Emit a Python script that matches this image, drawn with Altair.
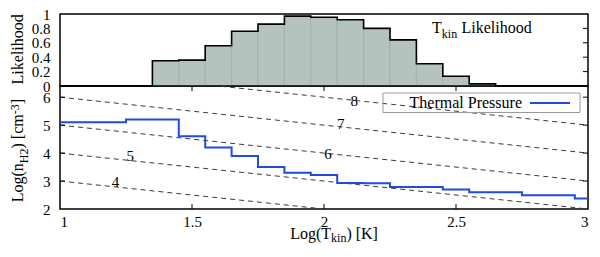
import altair as alt
import pandas as pd

FONT = "Liberation Serif, DejaVu Serif, Noto Serif, serif"

# ---------------- data ----------------
# Top panel: T_kin likelihood histogram (bins of width 0.1 in Log T_kin)
bin_left = [1.35, 1.45, 1.55, 1.65, 1.75, 1.85, 1.95, 2.05, 2.15, 2.25, 2.35, 2.45, 2.55]
likelihood = [0.35, 0.36, 0.56, 0.76, 0.86, 0.97, 0.955, 0.92, 0.80, 0.64, 0.31, 0.135, 0.03]
bin_width = 0.1

# Bottom panel: thermal pressure step curve (edges in Log T_kin, values Log n_H2)
tp_edges = [1.0, 1.25, 1.45, 1.55, 1.65, 1.75, 1.85, 1.95, 2.05, 2.15, 2.25, 2.45, 2.55, 2.75, 2.95, 3.0]
tp_values = [5.1, 5.2, 4.6, 4.2, 3.9, 3.5, 3.3, 3.22, 2.93, 2.92, 2.79, 2.7, 2.6, 2.49, 2.38, 2.38]

# Isobars Log(n T) = level : endpoints at Log T = 1 and Log T = 3
isobar_levels = [4, 5, 6, 7, 8]
isobar_y_at_1 = [3, 4, 5, 6, 7]
isobar_y_at_3 = [1, 2, 3, 4, 5]
isobar_label_x = [1.21, 1.266, 2.015, 2.063, 2.115]
isobar_label_y = [2.96, 3.91, 3.97, 5.03, 5.88]

x_ticks = [1, 1.5, 2, 2.5, 3]
y_ticks_top = [0, 0.2, 0.4, 0.6, 0.8, 1]
y_ticks_bottom = [2, 3, 4, 5, 6]

# ---------------- layout constants ----------------
W = 528
H_TOP = 72
H_BOT = 123
TICK = 5
BLUE = "#1f4be0"
TS = 16   # title font size
LS = 15   # tick label font size

xscale = alt.Scale(domain=[1, 3], nice=False, zero=False)
ytop = alt.Scale(domain=[0, 1], nice=False, zero=False)
ybot = alt.Scale(domain=[2, 6.4], nice=False, zero=False)

common_axis = dict(format="~g", title=None, ticks=False, domain=False, grid=False,
                   labelOverlap=False, labelFontSize=LS, labelFont=FONT, labelColor="black")
top_y_axis = alt.Axis(values=y_ticks_top, labelPadding=10, **common_axis)
bot_y_axis = alt.Axis(values=y_ticks_bottom, labelPadding=10, **common_axis)
bot_x_axis = alt.Axis(values=x_ticks, labelPadding=5, **common_axis)


def piece(text, x, y, size=TS, angle=0, align="left", baseline="alphabetic"):
    return alt.Chart(pd.DataFrame({"t": [text]})).mark_text(
        font=FONT, fontSize=size, angle=angle, align=align, baseline=baseline, color="black"
    ).encode(text="t:N", x=alt.value(x), y=alt.value(y))


# ---------------- top panel ----------------
hist_df = pd.DataFrame({
    "left": bin_left,
    "right": [b + bin_width for b in bin_left],
    "p": likelihood,
})
outline_df = pd.DataFrame({
    "x": [1.0] + bin_left + [bin_left[-1] + bin_width, 3.0],
    "p": [0.0] + likelihood + [0.0, 0.0],
})
top_ticks_df = pd.DataFrame({"v": y_ticks_top[1:-1]})

bars = alt.Chart(hist_df).mark_rect(fill="#b4c3be", stroke="#97a6a1", strokeWidth=0.6).encode(
    x=alt.X("left:Q", scale=xscale, axis=None),
    x2="right:Q",
    y=alt.Y("p:Q", scale=ytop, axis=top_y_axis),
    y2=alt.datum(0),
)
outline = alt.Chart(outline_df).mark_line(interpolate="step-after", color="black", strokeWidth=1.6).encode(
    x=alt.X("x:Q", scale=xscale, axis=None),
    y=alt.Y("p:Q", scale=ytop, axis=top_y_axis),
)
top_right_ticks = alt.Chart(top_ticks_df).mark_rule(color="black", strokeWidth=1).encode(
    y=alt.Y("v:Q", scale=ytop, axis=top_y_axis),
    x=alt.value(W - TICK), x2=alt.value(W),
)

top = alt.layer(
    bars, outline, top_right_ticks,
    piece("T", 372, 19),
    piece("kin", 381.8, 24, size=12),
    piece("Likelihood", 401.5, 19),
    piece("Likelihood", -37.5, 35.3, angle=270, align="center"),
).properties(width=W, height=H_TOP)

# ---------------- bottom panel ----------------
iso_df = pd.DataFrame({
    "level": isobar_levels * 2,
    "x": [1.0] * len(isobar_levels) + [3.0] * len(isobar_levels),
    "y": isobar_y_at_1 + isobar_y_at_3,
})
iso_lab_df = pd.DataFrame({
    "lab": [str(v) for v in isobar_levels],
    "x": isobar_label_x,
    "y": isobar_label_y,
})
tp_df = pd.DataFrame({"x": tp_edges, "y": tp_values})
bot_y_ticks_df = pd.DataFrame({"v": y_ticks_bottom[1:]})
bot_x_ticks_df = pd.DataFrame({"v": x_ticks[1:-1]})

isobars = alt.Chart(iso_df).mark_line(clip=True, strokeDash=[5, 4], color="#3a3a3a", strokeWidth=1).encode(
    x=alt.X("x:Q", scale=xscale, axis=bot_x_axis),
    y=alt.Y("y:Q", scale=ybot, axis=bot_y_axis),
    detail="level:N",
)
iso_labels = alt.Chart(iso_lab_df).mark_text(font=FONT, fontSize=15, color="black").encode(
    x=alt.X("x:Q", scale=xscale, axis=bot_x_axis),
    y=alt.Y("y:Q", scale=ybot, axis=bot_y_axis),
    text="lab:N",
)
tp_line = alt.Chart(tp_df).mark_line(interpolate="step-after", color=BLUE, strokeWidth=2).encode(
    x=alt.X("x:Q", scale=xscale, axis=bot_x_axis),
    y=alt.Y("y:Q", scale=ybot, axis=bot_y_axis),
)
left_ticks = alt.Chart(bot_y_ticks_df).mark_rule(color="black", strokeWidth=1).encode(
    y=alt.Y("v:Q", scale=ybot, axis=bot_y_axis), x=alt.value(0), x2=alt.value(TICK))
right_ticks = alt.Chart(bot_y_ticks_df).mark_rule(color="black", strokeWidth=1).encode(
    y=alt.Y("v:Q", scale=ybot, axis=bot_y_axis), x=alt.value(W - TICK), x2=alt.value(W))
top_xticks = alt.Chart(bot_x_ticks_df).mark_rule(color="black", strokeWidth=1).encode(
    x=alt.X("v:Q", scale=xscale, axis=bot_x_axis), y=alt.value(0), y2=alt.value(TICK))
bot_xticks = alt.Chart(bot_x_ticks_df).mark_rule(color="black", strokeWidth=1).encode(
    x=alt.X("v:Q", scale=xscale, axis=bot_x_axis), y=alt.value(H_BOT - TICK), y2=alt.value(H_BOT))

one = pd.DataFrame({"a": [0]})
legend_box = alt.Chart(one).mark_rect(fill="white", fillOpacity=0, stroke="#9a9a9a", strokeWidth=1).encode(
    x=alt.value(W - 205), x2=alt.value(W - 8), y=alt.value(7), y2=alt.value(26.5))
legend_line = alt.Chart(one).mark_rule(color=BLUE, strokeWidth=2).encode(
    x=alt.value(W - 58), x2=alt.value(W - 18), y=alt.value(17))

bottom = alt.layer(
    isobars, iso_labels, tp_line, left_ticks, right_ticks, top_xticks, bot_xticks,
    legend_box, legend_line,
    piece("Thermal Pressure", W - 66, 17, align="right", baseline="middle"),
    # y title: Log(n_H2) [cm^-3]
    piece("Log(n", -37.5, 116.3, angle=270),
    piece("H2", -32.5, 77.2, size=12, angle=270),
    piece(") [cm", -37.5, 62.5, angle=270),
    piece("-3", -41.5, 28.3, size=12, angle=270),
    piece("]", -37.5, 18.3, angle=270),
    # x title: Log(T_kin) [K]
    piece("Log(T", 230.2, H_BOT + 30),
    piece("kin", 271.1, H_BOT + 33, size=12),
    piece(") [K]", 286.4, H_BOT + 30),
).properties(width=W, height=H_BOT)

chart = alt.vconcat(top, bottom, spacing=0, bounds="flush").properties(
    padding={"left": -1, "top": -2, "right": -1, "bottom": 0}
).configure(font=FONT).configure_view(stroke="black", strokeWidth=1.5)

chart.save("out.html", embed_options={"renderer": "svg", "actions": False})
